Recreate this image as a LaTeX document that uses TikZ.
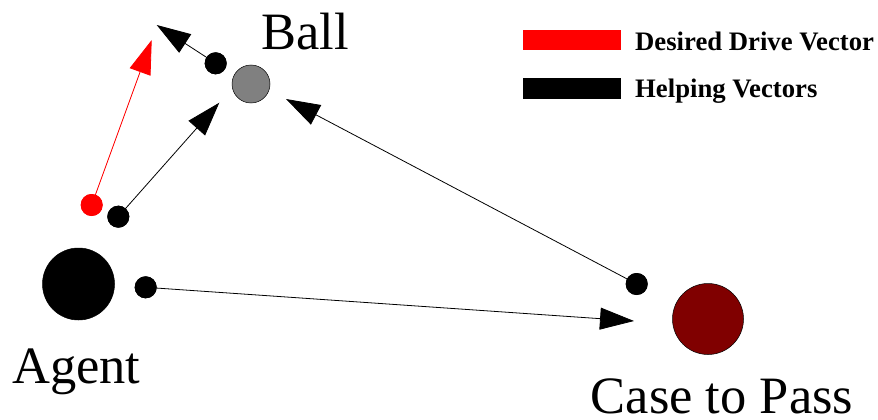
\documentclass[tikz,border=0pt]{standalone}
\usepackage{fontspec}
\setmainfont{Liberation Serif}
\usetikzlibrary{arrows.meta}
\definecolor{ballgray}{RGB}{128,128,128}
\definecolor{casered}{RGB}{128,0,0}
\tikzset{
  dotnode/.style={circle,inner sep=0pt,minimum size=22pt,fill=black,draw=none},
  reddot/.style={dotnode,fill=red},
  bignode/.style={circle,inner sep=0pt,minimum size=72pt,draw=black,line width=0.5pt},
  biglabel/.style={inner sep=0pt,anchor=base west,text depth=0pt,font=\fontsize{52.5}{52.5}\selectfont},
  legendtext/.style={inner sep=0pt,anchor=base west,font=\bfseries\fontsize{26.7}{26.7}\selectfont},
  vec/.style={line width=0.8pt,-{Triangle[length=34pt,width=22pt]}},
  legendbar/.style={inner sep=0pt,minimum width=98pt,minimum height=20pt,draw=none}
}
\begin{document}
\begin{tikzpicture}[x=1pt,y=-1pt]
\useasboundingbox (0,0) rectangle (878,420);
% main bodies
\node[bignode,fill=ballgray,minimum size=38pt] (ball) at (251,84) {};
\node[bignode,fill=black] (agent) at (78.5,284) {};
\node[bignode,fill=casered,minimum size=71pt] (case) at (708,319) {};
% labels
\node[biglabel] (balllbl) at (261,49) {Ball};
\node[biglabel] (agentlbl) at (12,383) {Agent};
\node[biglabel] (caselbl) at (590.5,413) {Case to Pass};
% small dots
\node[dotnode] (bdot) at (215.7,63.3) {};
\node[reddot] (rdot) at (91.7,205) {};
\node[dotnode] (hdot) at (118.3,216.7) {};
\node[dotnode] (adot) at (145.7,287.3) {};
\node[dotnode] (cdot) at (636.7,284) {};
% arrow tips
\coordinate (tb) at (156.7,25);
\coordinate (tr) at (151.7,40);
\coordinate (th) at (219.3,102.7);
\coordinate (tc) at (286,99);
\coordinate (ta) at (634,321);
% vectors
\draw[vec] (bdot.center) -- (tb);
\draw[vec,red,fill=red] (rdot.center) -- (tr);
\draw[vec] (hdot.center) -- (th);
\draw[vec] (cdot.center) -- (tc);
\draw[vec] (adot.center) -- (ta);
% redraw dots on top
\node[dotnode] at (bdot) {};
\node[reddot] at (rdot) {};
\node[dotnode] at (hdot) {};
\node[dotnode] at (adot) {};
\node[dotnode] at (cdot) {};
% legend
\node[legendbar,fill=red,anchor=north west] (lred) at (522.7,30) {};
\node[legendbar,fill=black,anchor=north west,minimum height=21.5pt] (lblack) at (522.7,77.7) {};
\node[legendtext] (ltred) at (635,50.7) {Desired Drive Vector};
\node[legendtext] (ltblack) at (635,97.3) {Helping Vectors};
\end{tikzpicture}
\end{document}
